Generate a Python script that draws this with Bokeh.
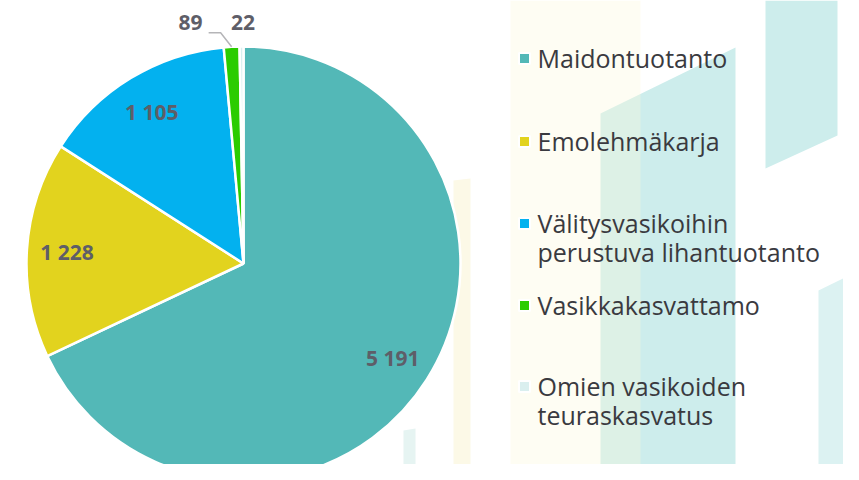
from math import pi, sin, cos
from bokeh.plotting import figure
from bokeh.models import Range1d
from bokeh.core.properties import value
from bokeh.embed import file_html
from bokeh.resources import INLINE

# ---------------- data ----------------
categories = ["Maidontuotanto", "Emolehmäkarja",
              "Välitysvasikoihin perustuva lihantuotanto",
              "Vasikkakasvattamo", "Omien vasikoiden teuraskasvatus"]
legend_lines = [["Maidontuotanto"], ["Emolehmäkarja"],
                ["Välitysvasikoihin", "perustuva lihantuotanto"],
                ["Vasikkakasvattamo"], ["Omien vasikoiden", "teuraskasvatus"]]
values = [5191, 1228, 1105, 89, 22]
value_labels = ["5 191", "1 228", "1 105", "89", "22"]
colors = ["#53B8B7", "#E2D31E", "#03B1EF", "#2BCC00", "#DAEFEF"]

# ---------------- layout (reference pixel space, y downward) ----------------
W, H = 859, 480
def Y(py):
    return H - py

cx, cy, R = 243, 263, 217
label_font = value("Open Sans")

p = figure(width=843, height=464, x_range=Range1d(0, 843), y_range=Range1d(16, 480),
           output_backend="svg", toolbar_location=None, min_border=0, title=None)
p.axis.visible = False
p.grid.visible = False
p.outline_line_color = None
p.background_fill_color = "white"
p.border_fill_color = "white"

# faint decorative background shapes
decor_cyan = [
    ([600, 735, 735, 600], [113, 47, 480, 480], "#CDEDEC"),
    ([765, 837, 837, 765], [0, 0, 135, 168], "#CDEDEC"),
    ([818, 859, 859, 818], [290, 270, 480, 480], "#DCF2F2"),
    ([403, 415, 415, 403], [430, 428, 480, 480], "#E6F4F2"),
]
for xs, ys, c in decor_cyan:
    p.patch(xs, [Y(v) for v in ys], fill_color=c, line_color=None)
decor_yellow = [
    ([510, 640, 640, 510], [0, 0, 480, 480], "#FCF8DC", 0.35),
    ([453, 470, 470, 453], [180, 178, 480, 480], "#FAF4D0", 0.5),
]
for xs, ys, c, a in decor_yellow:
    p.patch(xs, [Y(v) for v in ys], fill_color=c, fill_alpha=a, line_color=None)

# ---------------- pie ----------------
total = sum(values)
cum = 0.0
mids = []
for v, c in zip(values, colors):
    a0 = cum / total * 2 * pi
    cum += v
    a1 = cum / total * 2 * pi
    mids.append((a0 + a1) / 2)
    p.wedge(x=cx, y=Y(cy), radius=R, start_angle=pi / 2 - a1, end_angle=pi / 2 - a0,
            direction="anticlock", fill_color=c, line_color="white", line_width=2.5)

lab_color = "#5E5E68"
# inside labels
for i in range(3):
    m = mids[i]
    lx = cx + 0.815 * R * sin(m)
    ly = cy - 0.815 * R * cos(m)
    p.text(x=[lx], y=[Y(ly)], text=[value_labels[i]], text_font=label_font,
           text_font_style="bold", text_font_size="21px", text_color=lab_color,
           text_align="center", text_baseline="middle")

# small slice "89" with connector
m = mids[3]
ex, ey = cx + R * sin(m), cy - R * cos(m)
elx, ely = ex - 11, ey - 14
sx = elx - 12
p.line([sx, elx, ex], [Y(ely), Y(ely), Y(ey)], line_color="#B5B5B8", line_width=1.5)
p.text(x=[sx - 6], y=[Y(ely - 10)], text=[value_labels[3]], text_font=label_font,
       text_font_style="bold", text_font_size="21px", text_color=lab_color,
       text_align="right", text_baseline="middle")

# small slice "22"
m = mids[4]
ex, ey = cx + R * sin(m), cy - R * cos(m)
p.text(x=[ex + 1.5], y=[Y(ey - 24)], text=[value_labels[4]], text_font=label_font,
       text_font_style="bold", text_font_size="21px", text_color=lab_color,
       text_align="center", text_baseline="middle")

# ---------------- legend ----------------
row_centers = [57, 140, 222, 304, 385]
line_step = 29
for lines, c, yc in zip(legend_lines, colors, row_centers):
    p.rect(x=[524], y=[Y(yc + 1)], width=11, height=11, fill_color=c,
           line_color="white", line_width=2)
    for k, t in enumerate(lines):
        p.text(x=[537], y=[Y(yc + k * line_step)], text=[t], text_font=label_font,
               text_font_size="25px", text_color="#3A3A3F",
               text_align="left", text_baseline="middle")

open("out.html", "w").write(file_html(p, INLINE))
